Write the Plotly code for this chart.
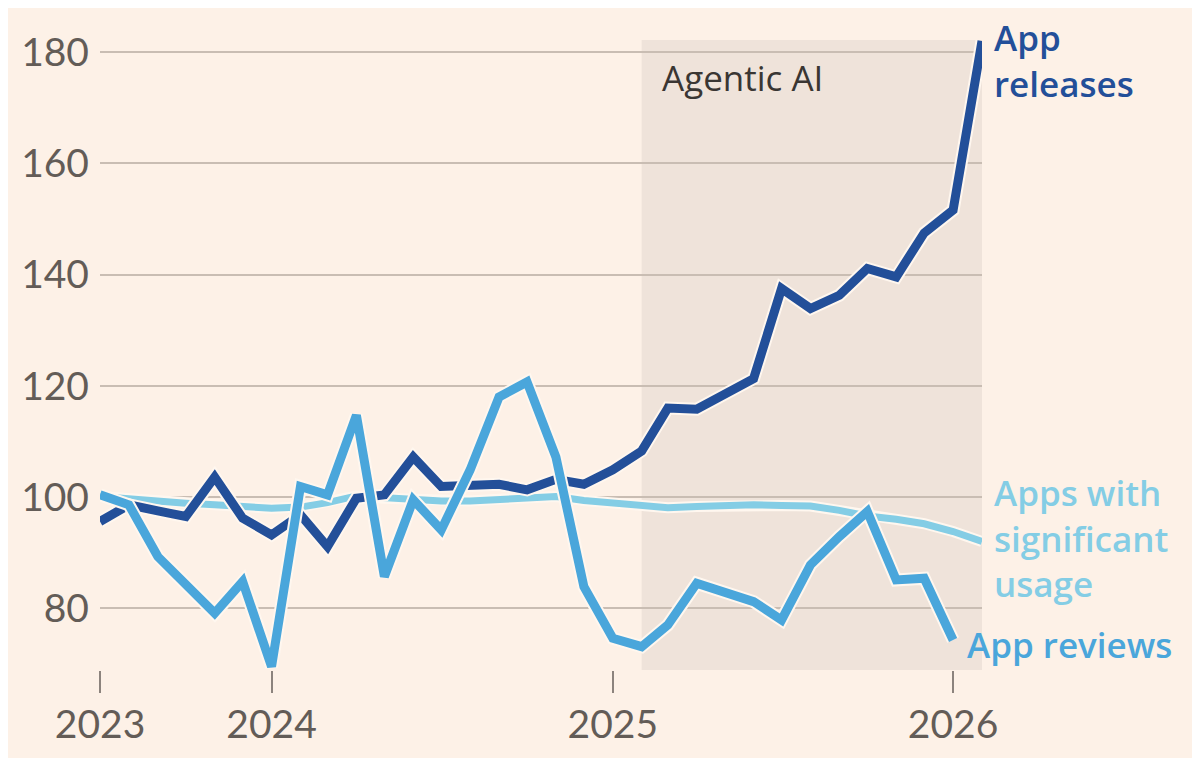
import pandas as pd
import plotly.graph_objects as go

# monthly index, Jul 2023 = 100-ish
months = pd.date_range("2023-07-01", "2026-02-01", freq="MS")

app_releases = [95.6, 98.6, 97.5, 96.5, 103.6, 96.2, 93.2, 96.8, 91.1, 99.8,
                100.4, 107.2, 101.9, 102.0, 102.3, 101.3, 103.2, 102.3, 104.9, 108.3,
                116.0, 115.8, 118.3, 121.3, 137.5, 133.9, 136.3, 141.1, 139.6, 147.5,
                151.6, 182.0]

app_reviews = [100.4, 98.6, 89.3, 84.5, 79.1, 84.8, 69.5, 101.9, 100.4, 114.7,
               85.7, 99.5, 94.1, 104.9, 118.0, 120.7, 107.2, 83.9, 74.6, 73.1,
               77.0, 84.5, 83.0, 81.2, 77.9, 87.8, 92.9, 97.4, 85.1, 85.4,
               74.3]

sig_usage = [100.1, 99.6, 99.2, 98.9, 98.6, 98.3, 98.0, 98.2, 99.0, 100.2,
             99.8, 99.5, 99.3, 99.3, 99.6, 100.0, 100.1, 99.4, 98.9, 98.3,
             98.1, 98.3, 98.5, 98.6, 98.5, 98.4, 97.6, 96.6, 96.0, 95.2,
             93.8, 92.0]

tick_dates = ["2023-07-01", "2024-01-01", "2025-01-01", "2026-01-01"]
tick_text = ["2023", "2024", "2025", "2026"]
y_ticks = [80, 100, 120, 140, 160, 180]

bg = "#FDF1E7"
halo = "#FFF7EF"
c_rel = "#234F99"
c_rev = "#4AA6DB"
c_use = "#84CDE5"

fig = go.Figure()

# draw bottom to top, each line with a pale halo behind it
for name, vals, col, w in [("Apps with significant usage", sig_usage, c_use, 7),
                           ("App releases", app_releases, c_rel, 9),
                           ("App reviews", app_reviews, c_rev, 9)]:
    x = months[:len(vals)]
    fig.add_trace(go.Scatter(x=x, y=vals, mode="lines", hoverinfo="skip",
                             line=dict(color=halo, width=w + 4)))
    fig.add_trace(go.Scatter(x=x, y=vals, mode="lines", name=name,
                             line=dict(color=col, width=w)))

# agentic AI period
fig.add_shape(type="rect", xref="x", yref="paper", x0="2025-02-01", x1="2026-02-01",
              y0=0, y1=1, fillcolor="#EFE3DA", line_width=0, layer="below")
fig.add_shape(type="line", xref="paper", yref="y", x0=0, x1=1, y0=100, y1=100,
              line=dict(color="#4A4440", width=2), layer="between")

fig.add_annotation(x="2025-02-01", y=1, xref="x", yref="paper", xanchor="left", yanchor="top",
                   xshift=18, yshift=-12, showarrow=False, text="Agentic AI",
                   font=dict(family="Open Sans", size=35, color="#3A3633"))

lab_font = dict(family="Open Sans", size=35, weight=600)
labels = [("App<br>releases", 178.5, 10, c_rel),
          ("Apps with<br>significant<br>usage", 92.7, 10, c_use),
          ("App reviews", 73.4, -17, c_rev)]
for txt, yv, dx, col in labels:
    fig.add_annotation(x=1, y=yv, xref="paper", yref="y", xanchor="left", yanchor="middle",
                       xshift=dx, showarrow=False, text=txt, align="left",
                       font=dict(lab_font, color=col))

fig.update_layout(
    width=1200, height=758,
    margin=dict(l=92, r=226, t=32, b=96),
    paper_bgcolor=bg, plot_bgcolor=bg,
    showlegend=False,
    font=dict(family="Lato", size=39, color="#635C57"),
)
fig.update_xaxes(range=["2023-07-01", "2026-02-01"], tickvals=tick_dates, ticktext=tick_text,
                 showgrid=False, zeroline=False, showline=False,
                 ticks="outside", ticklen=22, tickwidth=2, tickcolor="#8C837D",
                 ticklabelstandoff=-2)
fig.update_yaxes(range=[68.9, 182.2], tickvals=y_ticks, showgrid=True,
                 gridcolor="#C9BDB3", gridwidth=2, zeroline=False, showline=False,
                 ticklabelstandoff=10)

fig.write_html("out.html")
